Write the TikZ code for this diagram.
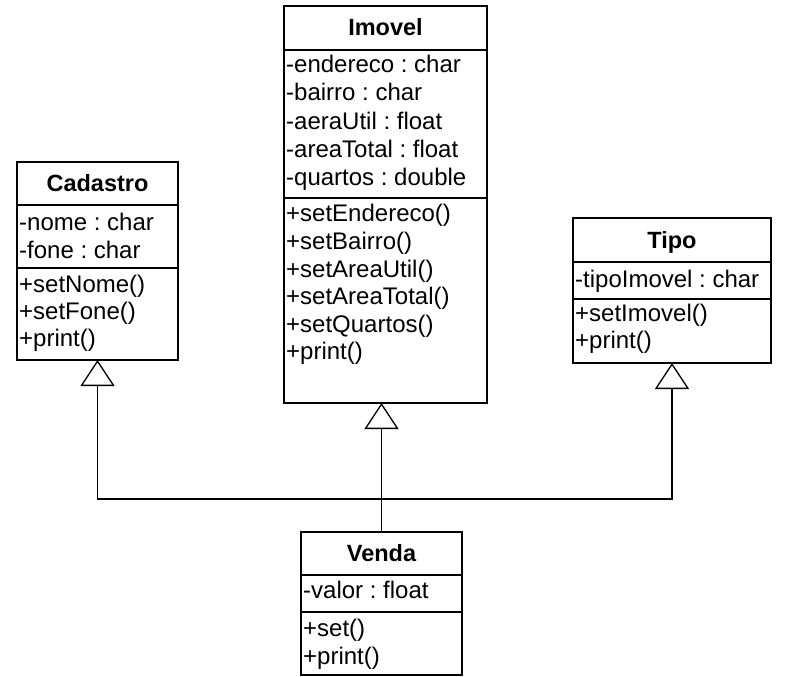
\documentclass[tikz,border=0pt]{standalone}
\usepackage{fontspec}
\setmainfont{Liberation Sans}
\usetikzlibrary{arrows.meta}
\frenchspacing
\begin{document}
\begin{tikzpicture}[x=1pt,y=-1pt,
  classbox/.style={draw, line width=1.4pt, inner sep=0pt, outer sep=0pt, anchor=north west},
  divider/.style={line width=1.4pt},
  member/.style={anchor=base west, inner sep=0pt, font=\frenchspacing\fontsize{24}{28}\selectfont},
  title/.style={anchor=base, inner sep=0pt, font=\bfseries\fontsize{23.5}{28}\selectfont},
  inh/.style={line width=1.3pt, -{Triangle[open, fill=white, length=26pt, width=34pt]}}]
\useasboundingbox (0,0) rectangle (785,677);

% Cadastro
\node[classbox, minimum width=161pt, minimum height=198pt] (cadastro) at (17,162) {};
\draw[divider] (17,205) -- (178,205);
\draw[divider] (17,268) -- (178,268);
\node[title] (cadT) at (97.5,191.5) {Cadastro};
\foreach \t/\yy [count=\i] in {-nome : char/230, -fone : char/258}
  \node[member] (cadA\i) at (19,\yy) {\t};
\foreach \t/\yy [count=\i] in {+setNome()/292, +setFone()/319, +print()/346}
  \node[member] (cadM\i) at (19,\yy) {\t};

% Imovel
\node[classbox, minimum width=203pt, minimum height=397pt] (imovel) at (284,6) {};
\draw[divider] (284,50) -- (487,50);
\draw[divider] (284,198) -- (487,198);
\node[title] (imoT) at (385.5,36) {Imovel};
\foreach \t/\yy [count=\i] in {-endereco : char/73, -bairro : char/101, -aeraUtil : float/129, -areaTotal : float/157, -quartos : double/185}
  \node[member] (imoA\i) at (286,\yy) {\t};
\foreach \t/\yy [count=\i] in {+setEndereco()/221, +setBairro()/249, +setAreaUtil()/277, +setAreaTotal()/304, +setQuartos()/332, +print()/359}
  \node[member] (imoM\i) at (286,\yy) {\t};

% Tipo
\node[classbox, minimum width=198pt, minimum height=145pt] (tipo) at (573,218) {};
\draw[divider] (573,262) -- (771,262);
\draw[divider] (573,299) -- (771,299);
\node[title] (tipT) at (672,248) {Tipo};
\node[member] (tipA1) at (575,287.5) {-tipoImovel : char};
\foreach \t/\yy [count=\i] in {+setImovel()/321, +print()/348}
  \node[member] (tipM\i) at (575,\yy) {\t};

% Venda
\node[classbox, minimum width=161pt, minimum height=143pt] (venda) at (301,532) {};
\draw[divider] (301,575) -- (462,575);
\draw[divider] (301,612) -- (462,612);
\node[title] (venT) at (381.5,561.5) {Venda};
\node[member] (venA1) at (303,598) {-valor : float};
\foreach \t/\yy [count=\i] in {+set()/636, +print()/664}
  \node[member] (venM\i) at (303,\yy) {\t};

% Inheritance connectors
\coordinate (bus) at (381.5,499);
\draw[inh] (venda.north) -- (venda.north |- imovel.south);
\draw[inh] (bus) -| (cadastro.south);
\draw[inh] (bus) -| (tipo.south);
\end{tikzpicture}
\end{document}
